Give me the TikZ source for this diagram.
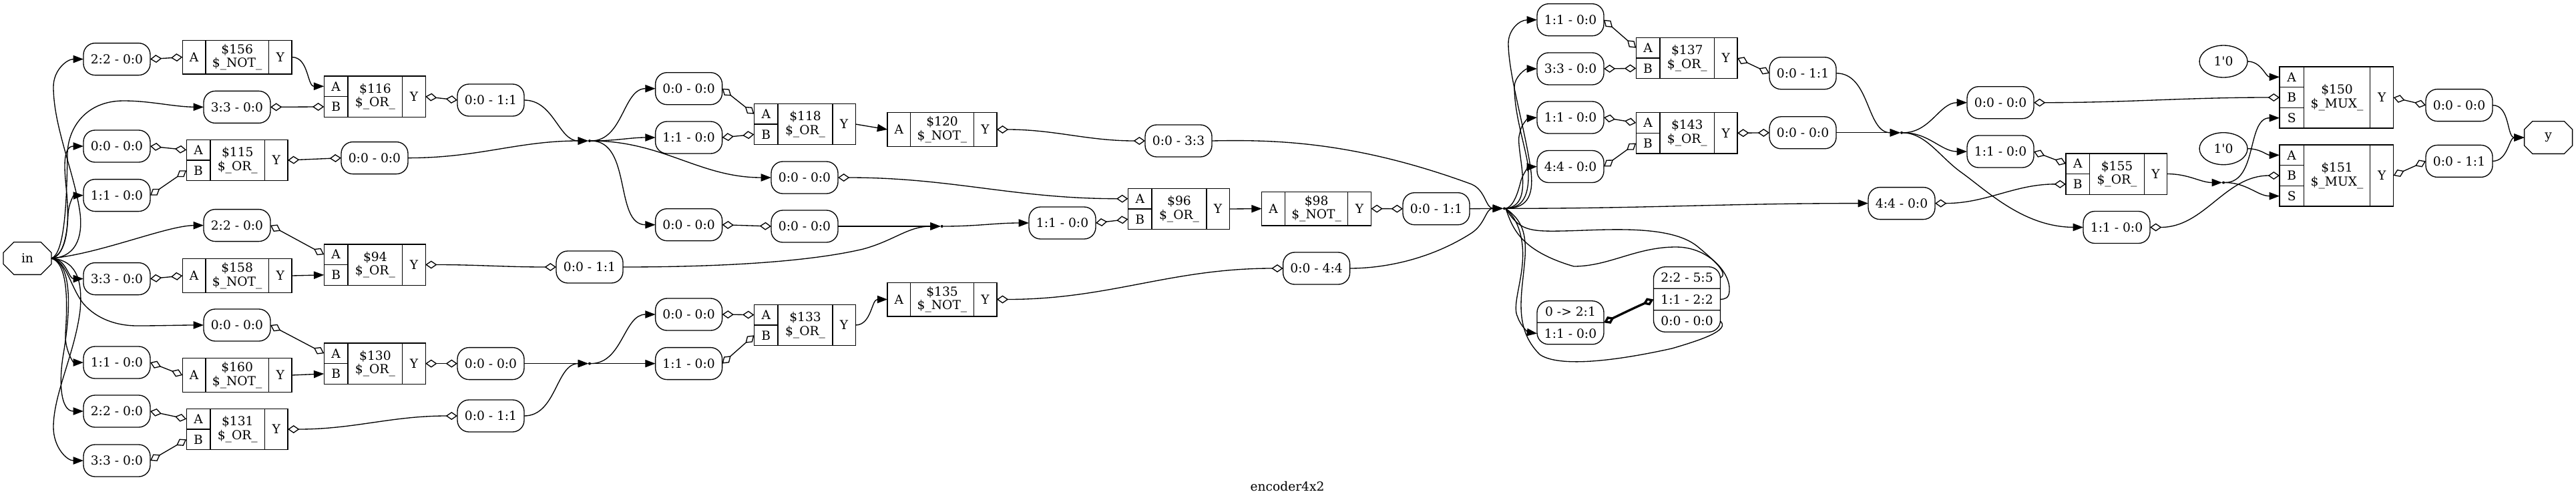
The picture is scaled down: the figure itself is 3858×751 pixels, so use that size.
\documentclass[tikz,border=0pt]{standalone}
\usepackage{fontspec}
\setmainfont{DejaVu Serif}
\usetikzlibrary{arrows.meta}
\usetikzlibrary{shapes.geometric}
\usetikzlibrary{shapes.misc}
\usetikzlibrary{shapes.multipart}

\begin{document}
\begin{tikzpicture}[
			x=0.75pt,y=-0.75pt,line width=1pt,
			every node/.style={font=\fontsize{14}{15.4}\selectfont,inner sep=0pt,outer sep=0pt,align=center},
			bitnode/.style={draw,rounded corners=13pt,minimum width=75pt,minimum height=36pt},
			splitnode/.style={draw,rounded corners=13pt,rectangle split,rectangle split parts=#1,minimum width=75pt,inner xsep=0pt,inner ysep=6.4pt},
			notlabel/.style={draw,minimum width=70.8pt,minimum height=38pt},
			notport/.style={draw,minimum width=26pt,minimum height=38pt},
			orlabel/.style={draw,minimum width=61.3pt,minimum height=46pt},
			orport/.style={draw,minimum width=26.8pt,minimum height=23pt},
			orout/.style={draw,minimum width=25.8pt,minimum height=46pt},
			muxlabel/.style={draw,minimum width=74.6pt,minimum height=69pt},
			muxport/.style={draw,minimum width=27.2pt,minimum height=23pt},
			muxout/.style={draw,minimum width=26.2pt,minimum height=69pt},
			ionode/.style={draw,chamfered rectangle,chamfered rectangle xsep=13pt,chamfered rectangle ysep=9pt,minimum width=54pt,minimum height=36.5pt},
			constnode/.style={draw,ellipse,minimum width=54pt,minimum height=36pt},
			hubnode/.style={circle,fill=black,minimum size=3pt},
			swing/.style={out=0,in=180},
			dlink/.style={{Diamond[open,length=13pt,width=9pt]}-{Diamond[open,length=13pt,width=9pt]}},
			alink/.style={-{Triangle[length=11.5pt,width=8.5pt]}}
		]
		\useasboundingbox (0,0) rectangle (3858,751);

		% ports of the module
		\node[ionode] (in) at (41,387) {in};
		\node[ionode] (y) at (3816.6,206) {y};
		\node at (1928,729) (title) {encoder4x2};

		% left part
		\node[bitnode] (sa156) at (175,88.6) {2:2 - 0:0};
		\node[bitnode] (sb116) at (355,160.4) {3:3 - 0:0};
		\node[bitnode] (sa115) at (175,219) {0:0 - 0:0};
		\node[bitnode] (sb115) at (175,292.6) {1:1 - 0:0};
		\node[bitnode] (sa94) at (355,337.6) {2:2 - 0:0};
		\node[bitnode] (sa158) at (175,417.6) {3:3 - 0:0};
		\node[bitnode] (sa130) at (355,487) {0:0 - 0:0};
		\node[bitnode] (sa160) at (175,543) {1:1 - 0:0};
		\node[bitnode] (sa131) at (175,616) {2:2 - 0:0};
		\node[bitnode] (sb131) at (175,690) {3:3 - 0:0};

		\node[notlabel] (c156) at (355.2,85.6) {\$156\\\$\_NOT\_};
		\node[notport,anchor=east] (c156a) at (c156.west) {A};
		\node[notport,anchor=west] (c156y) at (c156.east) {Y};

		\node[orlabel] (c116) at (561.9,144.6) {\$116\\\$\_OR\_};
		\node[orport,anchor=south east] (c116a) at (c116.west) {A};
		\node[orport,anchor=north east] (c116b) at (c116.west) {B};
		\node[orout,anchor=west] (c116y) at (c116.east) {Y};

		\node[orlabel] (c115) at (355.8,240) {\$115\\\$\_OR\_};
		\node[orport,anchor=south east] (c115a) at (c115.west) {A};
		\node[orport,anchor=north east] (c115b) at (c115.west) {B};
		\node[orout,anchor=west] (c115y) at (c115.east) {Y};

		\node[notlabel] (c158) at (355.2,413) {\$158\\\$\_NOT\_};
		\node[notport,anchor=east] (c158a) at (c158.west) {A};
		\node[notport,anchor=west] (c158y) at (c158.east) {Y};

		\node[orlabel] (c94) at (561.9,396.5) {\$94\\\$\_OR\_};
		\node[orport,anchor=south east] (c94a) at (c94.west) {A};
		\node[orport,anchor=north east] (c94b) at (c94.west) {B};
		\node[orout,anchor=west] (c94y) at (c94.east) {Y};

		\node[orlabel] (c130) at (561.9,544.6) {\$130\\\$\_OR\_};
		\node[orport,anchor=south east] (c130a) at (c130.west) {A};
		\node[orport,anchor=north east] (c130b) at (c130.west) {B};
		\node[orout,anchor=west] (c130y) at (c130.east) {Y};

		\node[notlabel] (c160) at (355.2,562) {\$160\\\$\_NOT\_};
		\node[notport,anchor=east] (c160a) at (c160.west) {A};
		\node[notport,anchor=west] (c160y) at (c160.east) {Y};

		\node[orlabel] (c131) at (355.8,643) {\$131\\\$\_OR\_};
		\node[orport,anchor=south east] (c131a) at (c131.west) {A};
		\node[orport,anchor=north east] (c131b) at (c131.west) {B};
		\node[orout,anchor=west] (c131y) at (c131.east) {Y};

		\node[bitnode] (r116) at (735,150) {0:0 - 1:1};
		\node[bitnode] (r115) at (561,236.6) {0:0 - 0:0};
		\node[bitnode] (r94) at (883,400) {0:0 - 1:1};
		\node[bitnode] (r130) at (735,544.6) {0:0 - 0:0};
		\node[bitnode] (r131) at (735,623) {0:0 - 1:1};

		\node[hubnode] (hub1) at (883,211) {};
		\node[hubnode] (hub3) at (883,544.6) {};

		% middle part
		\node[bitnode] (sa118) at (1031.6,132.7) {0:0 - 0:0};
		\node[bitnode] (sb118) at (1031.6,206) {1:1 - 0:0};
		\node[bitnode] (pass1) at (1031.6,336.7) {0:0 - 0:0};
		\node[bitnode] (sa96) at (1205,266) {0:0 - 0:0};
		\node[bitnode] (pass2) at (1205,339) {0:0 - 0:0};
		\node[bitnode] (sb96) at (1591,334) {1:1 - 0:0};
		\node[bitnode] (sa133) at (1031.6,471) {0:0 - 0:0};
		\node[bitnode] (sb133) at (1031.6,544.6) {1:1 - 0:0};

		\node[orlabel] (c118) at (1206,186) {\$118\\\$\_OR\_};
		\node[orport,anchor=south east] (c118a) at (c118.west) {A};
		\node[orport,anchor=north east] (c118b) at (c118.west) {B};
		\node[orout,anchor=west] (c118y) at (c118.east) {Y};

		\node[notlabel] (c120) at (1411,194) {\$120\\\$\_NOT\_};
		\node[notport,anchor=east] (c120a) at (c120.west) {A};
		\node[notport,anchor=west] (c120y) at (c120.east) {Y};

		\node[orlabel] (c96) at (1766,313) {\$96\\\$\_OR\_};
		\node[orport,anchor=south east] (c96a) at (c96.west) {A};
		\node[orport,anchor=north east] (c96b) at (c96.west) {B};
		\node[orout,anchor=west] (c96y) at (c96.east) {Y};

		\node[notlabel] (c98) at (1971.6,312.6) {\$98\\\$\_NOT\_};
		\node[notport,anchor=east] (c98a) at (c98.west) {A};
		\node[notport,anchor=west] (c98y) at (c98.east) {Y};

		\node[orlabel] (c133) at (1206,487) {\$133\\\$\_OR\_};
		\node[orport,anchor=south east] (c133a) at (c133.west) {A};
		\node[orport,anchor=north east] (c133b) at (c133.west) {B};
		\node[orout,anchor=west] (c133y) at (c133.east) {Y};

		\node[notlabel] (c135) at (1411,448.5) {\$135\\\$\_NOT\_};
		\node[notport,anchor=east] (c135a) at (c135.west) {A};
		\node[notport,anchor=west] (c135y) at (c135.east) {Y};

		\node[bitnode] (r120) at (1765,211) {0:0 - 3:3};
		\node[bitnode] (r135) at (1971.6,402) {0:0 - 4:4};
		\node[bitnode] (r98) at (2151,312.7) {0:0 - 1:1};

		\node[hubnode] (hub2) at (1410.7,339) {};
		\node[hubnode] (hubmain) at (2253,312.3) {};

		% right part
		\node[bitnode] (sa137) at (2352,29.7) {1:1 - 0:0};
		\node[bitnode] (sb137) at (2352,103) {3:3 - 0:0};
		\node[bitnode] (sa143) at (2352,176) {1:1 - 0:0};
		\node[bitnode] (sb143) at (2352,249.5) {4:4 - 0:0};
		\node[bitnode] (sb155) at (2848,304.6) {4:4 - 0:0};
		\node[bitnode] (sb150) at (2996,153.7) {0:0 - 0:0};
		\node[bitnode] (sa155) at (2996,227) {1:1 - 0:0};
		\node[bitnode] (sb151) at (3170,340.5) {1:1 - 0:0};

		\node[splitnode=2] (lowbits) at (2352,483.3) {0 -> 2:1\nodepart{two}1:1 - 0:0};
		\node[splitnode=3] (outbits) at (2526.5,448.5) {2:2 - 5:5\nodepart{two}1:1 - 2:2\nodepart{three}0:0 - 0:0};

		\node[orlabel] (c137) at (2526.8,87) {\$137\\\$\_OR\_};
		\node[orport,anchor=south east] (c137a) at (c137.west) {A};
		\node[orport,anchor=north east] (c137b) at (c137.west) {B};
		\node[orout,anchor=west] (c137y) at (c137.east) {Y};

		\node[orlabel] (c143) at (2526.8,199.3) {\$143\\\$\_OR\_};
		\node[orport,anchor=south east] (c143a) at (c143.west) {A};
		\node[orport,anchor=north east] (c143b) at (c143.west) {B};
		\node[orout,anchor=west] (c143y) at (c143.east) {Y};

		\node[orlabel] (c155) at (3170.5,260.5) {\$155\\\$\_OR\_};
		\node[orport,anchor=south east] (c155a) at (c155.west) {A};
		\node[orport,anchor=north east] (c155b) at (c155.west) {B};
		\node[orout,anchor=west] (c155y) at (c155.east) {Y};

		\node[muxlabel] (c150) at (3500,146) {\$150\\\$\_MUX\_};
		\node[muxport,anchor=east] (c150b) at (c150.west) {B};
		\node[muxport,anchor=south] (c150a) at (c150b.north) {A};
		\node[muxport,anchor=north] (c150s) at (c150b.south) {S};
		\node[muxout,anchor=west] (c150y) at (c150.east) {Y};

		\node[muxlabel] (c151) at (3500,263) {\$151\\\$\_MUX\_};
		\node[muxport,anchor=east] (c151b) at (c151.west) {B};
		\node[muxport,anchor=south] (c151a) at (c151b.north) {A};
		\node[muxport,anchor=north] (c151s) at (c151b.south) {S};
		\node[muxout,anchor=west] (c151y) at (c151.east) {Y};

		\node[constnode] (zero1) at (3330,92) {1\textquotesingle 0};
		\node[constnode] (zero2) at (3330,222.7) {1\textquotesingle 0};

		\node[bitnode] (r137) at (2700,109.7) {0:0 - 1:1};
		\node[bitnode] (r143) at (2700,198.8) {0:0 - 0:0};
		\node[bitnode] (r150) at (3683,157.6) {0:0 - 0:0};
		\node[bitnode] (r151) at (3683,241.4) {0:0 - 1:1};

		\node[hubnode] (hub4) at (2848,198.8) {};
		\node[hubnode] (hub5) at (3330,273.5) {};

		% wires out of the input
		\draw[alink] (in.east) .. controls (120,385) and (123,345) .. (120,320) .. controls (112,260) and (80,190) .. (80,130) .. controls (80,105) and (100,88.6) .. (sa156.west);
		\draw[alink] (in.east) .. controls (96,380) and (100,310) .. (101,230) .. controls (102,190) and (130,151) .. (185,151) .. controls (225,151) and (260,160) .. (sb116.west);
		\draw[alink] (in.east) .. controls (100,380) and (104,340) .. (100,290) .. controls (97,260) and (92,219) .. (sa115.west);
		\draw[alink] (in.east) .. controls (95,385) and (101,350) .. (102,320) .. controls (103,305) and (110,293) .. (sb115.west);
		\draw[alink] (in.east) .. controls (150,380) and (250,338) .. (sa94.west);
		\draw[alink] (in.east) to[swing] (sa158.west);
		\draw[alink] (in.east) .. controls (100,390) and (105,430) .. (125,455) .. controls (145,478) and (175,488) .. (205,488) .. controls (240,488) and (270,487) .. (sa130.west);
		\draw[alink] (in.east) .. controls (105,395) and (100,470) .. (98,500) .. controls (97,525) and (110,543) .. (sa160.west);
		\draw[alink] (in.east) .. controls (110,395) and (105,470) .. (95,530) .. controls (88,570) and (90,616) .. (sa131.west);
		\draw[alink] (in.east) .. controls (120,390) and (123,430) .. (120,465) .. controls (112,530) and (80,590) .. (80,640) .. controls (80,670) and (100,690) .. (sb131.west);

		% left wires
		\draw[dlink] (sa156.east) -- (c156a.west);
		\draw[alink] (c156y.east) to[swing] (c116a.west);
		\draw[dlink] (sb116.east) -- (c116b.west);
		\draw[dlink] (c116y.east) -- (r116.west);
		\draw[dlink] (sa115.east) -- (c115a.west);
		\draw[dlink] (sb115.east) -- (c115b.west);
		\draw[dlink] (c115y.east) -- (r115.west);
		\draw[dlink] (sa94.east) -- (c94a.west);
		\draw[dlink] (sa158.east) -- (c158a.west);
		\draw[alink] (c158y.east) -- (c94b.west);
		\draw[dlink] (c94y.east) to[swing] (r94.west);
		\draw[dlink] (sa130.east) -- (c130a.west);
		\draw[dlink] (sa160.east) -- (c160a.west);
		\draw[alink] (c160y.east) -- (c130b.west);
		\draw[dlink] (c130y.east) -- (r130.west);
		\draw[dlink] (sa131.east) -- (c131a.west);
		\draw[dlink] (sb131.east) -- (c131b.west);
		\draw[dlink] (c131y.east) to[swing] (r131.west);

		\draw[alink] (r116.east) to[swing] (hub1.west);
		\draw[alink] (r115.east) to[swing] (hub1.west);
		\draw[alink] (hub1.east) to[swing] (sa118.west);
		\draw[alink] (hub1.east) to[swing] (sb118.west);
		\draw[alink] (hub1.east) to[swing] (sa96.west);
		\draw[alink] (hub1.east) to[swing] (pass1.west);
		\draw[alink] (r130.east) -- (hub3.west);
		\draw[alink] (r131.east) to[swing] (hub3.west);
		\draw[alink] (hub3.east) to[swing] (sa133.west);
		\draw[alink] (hub3.east) -- (sb133.west);

		% middle wires
		\draw[dlink] (sa118.east) -- (c118a.west);
		\draw[dlink] (sb118.east) -- (c118b.west);
		\draw[alink] (c118y.east) -- (c120a.west);
		\draw[dlink] (c120y.east) to[swing] (r120.west);
		\draw[dlink] (pass1.east) -- (pass2.west);
		\draw[dlink] (sa96.east) to[swing] (c96a.west);
		\draw[alink] (pass2.east) -- (hub2.west);
		\draw[alink] (r94.east) .. controls (1050,400) and (1200,395) .. (1293,373) .. controls (1340,360) and (1360,339) .. (hub2.west);
		\draw[alink] (hub2.east) to[swing] (sb96.west);
		\draw[dlink] (sb96.east) -- (c96b.west);
		\draw[alink] (c96y.east) -- (c98a.west);
		\draw[dlink] (c98y.east) -- (r98.west);
		\draw[dlink] (sa133.east) -- (c133a.west);
		\draw[dlink] (sb133.east) -- (c133b.west);
		\draw[alink] (c133y.east) to[swing] (c135a.west);
		\draw[dlink] (c135y.east) to[swing] (r135.west);

		\draw[alink] (r120.east) .. controls (1910,209) and (2030,212) .. (2204,276) .. controls (2225,285) and (2225,312) .. (hubmain.west);
		\draw[alink] (r98.east) -- (hubmain.west);
		\draw[alink] (r135.east) .. controls (2070,402) and (2140,390) .. (2204,349) .. controls (2225,335) and (2225,312) .. (hubmain.west);

		% wires out of the main junction
		\draw[alink] (hubmain.east) .. controls (2290,312) and (2298,290) .. (2292,250) .. controls (2283,190) and (2259,110) .. (2259,65) .. controls (2259,45) and (2275,30) .. (sa137.west);
		\draw[alink] (hubmain.east) .. controls (2285,312) and (2292,285) .. (2288,245) .. controls (2283,215) and (2268,170) .. (2268,130) .. controls (2268,115) and (2285,103) .. (sb137.west);
		\draw[alink] (hubmain.east) .. controls (2275,310) and (2283,295) .. (2280,260) .. controls (2278,235) and (2272,210) .. (2276,200) .. controls (2278,185) and (2290,177) .. (sa143.west);
		\draw[alink] (hubmain.east) .. controls (2265,310) and (2272,295) .. (2278,270) .. controls (2282,258) and (2290,250) .. (sb143.west);
		\draw[alink] (hubmain.east) to[swing] (sb155.west);
		\draw[alink] (hubmain.east) .. controls (2275,330) and (2283,360) .. (2280,395) .. controls (2277,430) and (2265,460) .. (2273,475) .. controls (2278,490) and (2290,498) .. (lowbits.two west);
		\draw (hubmain.east) .. controls (2275,345) and (2290,347) .. (2340,346) .. controls (2400,345) and (2500,335) .. (2542,369) .. controls (2565,388) and (2590,410) .. (outbits.one east);
		\draw (hubmain.east) .. controls (2265,340) and (2275,375) .. (2357,399) .. controls (2410,399) and (2450,370) .. (2510,370) .. controls (2560,370) and (2592,410) .. (2590,435) .. controls (2590,447) and (2583,448) .. (outbits.two east);
		\draw (hubmain.east) .. controls (2280,330) and (2286,350) .. (2284,385) .. controls (2280,440) and (2265,490) .. (2306,531) .. controls (2330,548) and (2400,545) .. (2504,522) .. controls (2545,510) and (2592,495) .. (outbits.three east);
		\draw[dlink,line width=2.5pt] (lowbits.east) .. controls (2425,472) and (2450,460) .. (outbits.two west);

		% right wires
		\draw[dlink] (sa137.east) -- (c137a.west);
		\draw[dlink] (sb137.east) -- (c137b.west);
		\draw[dlink] (sa143.east) -- (c143a.west);
		\draw[dlink] (sb143.east) -- (c143b.west);
		\draw[dlink] (c137y.east) -- (r137.west);
		\draw[dlink] (c143y.east) -- (r143.west);
		\draw[alink] (r137.east) to[swing] (hub4.west);
		\draw[alink] (r143.east) -- (hub4.west);
		\draw[alink] (hub4.east) to[swing] (sb150.west);
		\draw[alink] (hub4.east) to[swing] (sa155.west);
		\draw[alink] (hub4.east) .. controls (2885,200) and (2905,235) .. (2937,258) .. controls (2975,285) and (3030,340) .. (sb151.west);
		\draw[dlink] (sb150.east) to[swing] (c150b.west);
		\draw[dlink] (sa155.east) -- (c155a.west);
		\draw[dlink] (sb155.east) to[swing] (c155b.west);
		\draw[dlink] (sb151.east) to[swing] (c151b.west);
		\draw[alink] (zero1.east) to[swing] (c150a.west);
		\draw[alink] (zero2.east) to[swing] (c151a.west);
		\draw[alink] (c155y.east) to[swing] (hub5.west);
		\draw[alink] (hub5.east) to[swing] (c150s.west);
		\draw[alink] (hub5.east) to[swing] (c151s.west);
		\draw[dlink] (c150y.east) -- (r150.west);
		\draw[dlink] (c151y.east) -- (r151.west);
		\draw[alink] (r150.east) to[swing] (y.west);
		\draw[alink] (r151.east) to[swing] (y.west);
	\end{tikzpicture}
\end{document}
